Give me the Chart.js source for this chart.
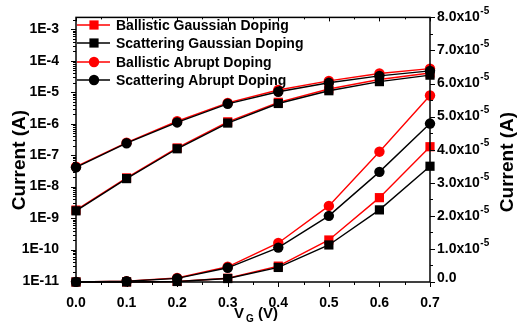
<!DOCTYPE html>
<html>
<head>
<meta charset="utf-8">
<script src="https://cdn.jsdelivr.net/npm/chart.js@4/dist/chart.umd.min.js"></script>
<style>
  body { margin: 0; background: #fff; }
  #wrap { width: 518px; height: 325px; }
</style>
</head>
<body>
<div id="wrap"><canvas id="ivChart" width="518" height="325"></canvas></div>
<script>
// gate voltage (V)
const vg = [0.0, 0.1, 0.2, 0.3, 0.4, 0.5, 0.6, 0.7];

// drain current (A)
const ballisticGaussian  = [1.8e-9, 1.9e-8, 1.7e-7, 1.15e-6, 4.8e-6, 1.27e-5, 2.55e-5, 4.09e-5];
const scatteringGaussian = [1.7e-9, 1.8e-8, 1.6e-7, 1.05e-6, 4.4e-6, 1.12e-5, 2.18e-5, 3.50e-5];
const ballisticAbrupt    = [4.3e-8, 2.5e-7, 1.2e-6, 4.6e-6, 1.18e-5, 2.30e-5, 3.94e-5, 5.64e-5];
const scatteringAbrupt   = [4.1e-8, 2.4e-7, 1.1e-6, 4.3e-6, 1.04e-5, 2.00e-5, 3.33e-5, 4.79e-5];

const seriesNames = ['Ballistic Gaussian Doping', 'Scattering Gaussian Doping',
                     'Ballistic Abrupt Doping', 'Scattering Abrupt Doping'];

// tick labels
const xTicks = [0.0, 0.1, 0.2, 0.3, 0.4, 0.5, 0.6, 0.7];
const logTicks = [1e-11, 1e-10, 1e-9, 1e-8, 1e-7, 1e-6, 1e-5, 1e-4, 1e-3];
const linTicks = [0, 1e-5, 2e-5, 3e-5, 4e-5, 5e-5, 6e-5, 7e-5, 8e-5];

const RED = '#ff0000';
const BLACK = '#000000';
const FONT = "'Liberation Sans', Arial, sans-serif";

const styles = [
  { color: RED,   shape: 'rect',   order: 1 },
  { color: BLACK, shape: 'rect',   order: 0 },
  { color: RED,   shape: 'circle', order: 1 },
  { color: BLACK, shape: 'circle', order: 0 }
];
const allSeries = [ballisticGaussian, scatteringGaussian, ballisticAbrupt, scatteringAbrupt];

function makeDataset(i, axis) {
  const st = styles[i];
  return {
    label: seriesNames[i],
    data: vg.map((v, k) => ({ x: v, y: allSeries[i][k] })),
    yAxisID: axis,
    borderColor: st.color,
    backgroundColor: st.color,
    borderWidth: 1.4,
    pointStyle: st.shape,
    pointRadius: st.shape === 'rect' ? 6.5 : 5.2,
    pointBorderWidth: 0,
    pointBackgroundColor: st.color,
    tension: 0,
    clip: false,
    order: st.order
  };
}

const datasets = [];
for (let i = 0; i < 4; i++) {
  datasets.push(makeDataset(i, 'yLog'));
  datasets.push(makeDataset(i, 'yLin'));
}

function drawMarker(ctx, shape, x, y, color) {
  ctx.fillStyle = color;
  ctx.beginPath();
  if (shape === 'rect') ctx.rect(x - 4.6, y - 4.6, 9.2, 9.2);
  else ctx.arc(x, y, 5.2, 0, Math.PI * 2);
  ctx.fill();
}

// frame, ticks, right labels, legend and titles
const decorPlugin = {
  id: 'decor',
  afterDatasetsDraw(chart) {
    const ctx = chart.ctx;
    const a = chart.chartArea;
    const xs = chart.scales.x, yl = chart.scales.yLog, yr = chart.scales.yLin;
    ctx.save();
    ctx.strokeStyle = BLACK;
    ctx.lineWidth = 1.5;
    ctx.strokeRect(a.left, a.top, a.right - a.left, a.bottom - a.top);

    ctx.lineWidth = 1;
    ctx.beginPath();
    // x ticks: out at the bottom, in at the top
    for (let k = 0; k <= 14; k++) {
      const x = Math.round(xs.getPixelForValue(k * 0.05)) + 0.5;
      const len = k % 2 === 0 ? 5 : 3;
      ctx.moveTo(x, a.bottom); ctx.lineTo(x, a.bottom + len);
      ctx.moveTo(x, a.top); ctx.lineTo(x, a.top + len - 1);
    }
    // log ticks on the left
    for (let e = -12; e <= -3; e++) {
      for (let m = 1; m <= 9; m++) {
        const v = m * Math.pow(10, e);
        if (v < yl.min || v > yl.max) continue;
        const y = Math.round(yl.getPixelForValue(v)) + 0.5;
        const len = m === 1 ? 5 : 3;
        ctx.moveTo(a.left, y); ctx.lineTo(a.left - len, y);
      }
    }
    // linear ticks on the right
    for (let k = 0; k <= 16; k++) {
      const y = Math.round(yr.getPixelForValue(k * 0.5e-5)) + 0.5;
      const len = k % 2 === 0 ? 5 : 3;
      ctx.moveTo(a.right, y); ctx.lineTo(a.right + len, y);
    }
    ctx.stroke();

    // right tick labels with superscript exponent
    ctx.fillStyle = BLACK;
    ctx.textBaseline = 'middle';
    ctx.textAlign = 'left';
    linTicks.forEach(v => {
      const y = yr.getPixelForValue(v);
      const lx = a.right + 7;
      if (v === 0) {
        ctx.font = 'bold 14px ' + FONT;
        ctx.fillText('0.0', lx, y - 4);
        return;
      }
      const mant = (v / 1e-5).toFixed(1) + 'x10';
      ctx.font = 'bold 14px ' + FONT;
      ctx.fillText(mant, lx, y);
      const w = ctx.measureText(mant).width;
      ctx.font = 'bold 10px ' + FONT;
      ctx.fillText('-5', lx + w + 0.5, y - 6);
    });

    // legend
    const rows = [25, 43, 62, 80];
    rows.forEach((y, i) => {
      const st = styles[i];
      ctx.strokeStyle = st.color;
      ctx.lineWidth = 1.4;
      ctx.beginPath();
      ctx.moveTo(a.left + 1, y); ctx.lineTo(a.left + 34, y);
      ctx.stroke();
      drawMarker(ctx, st.shape, a.left + 18, y, st.color);
      ctx.fillStyle = BLACK;
      ctx.font = 'bold 14px ' + FONT;
      ctx.textAlign = 'left';
      ctx.fillText(seriesNames[i], a.left + 40, y + 1);
    });

    // axis titles
    ctx.font = 'bold 19px ' + FONT;
    ctx.textAlign = 'center';
    ctx.textBaseline = 'middle';
    [[20, 160], [508, 162]].forEach(([tx, ty]) => {
      ctx.save();
      ctx.translate(tx, ty);
      ctx.rotate(-Math.PI / 2);
      ctx.fillText('Current (A)', 0, 0);
      ctx.restore();
    });

    ctx.textAlign = 'left';
    ctx.textBaseline = 'alphabetic';
    ctx.font = 'bold 15px ' + FONT;
    ctx.fillText('V', 234, 318);
    ctx.font = 'bold 10px ' + FONT;
    ctx.fillText('G', 246, 322);
    ctx.font = 'bold 15px ' + FONT;
    ctx.fillText('(V)', 258, 318);
    ctx.restore();
  }
};

new Chart(document.getElementById('ivChart'), {
  type: 'line',
  data: { datasets: datasets },
  options: {
    responsive: false,
    animation: false,
    layout: { padding: { top: 17, left: 0, right: 0, bottom: 0 } },
    plugins: { legend: { display: false }, tooltip: { enabled: false } },
    scales: {
      x: {
        type: 'linear',
        min: 0, max: 0.7,
        afterBuildTicks: s => { s.ticks = xTicks.map(v => ({ value: v })); },
        afterFit: s => { s.height = 43; },
        ticks: {
          callback: v => v.toFixed(1),
          font: { family: FONT, size: 14, weight: 'bold' },
          color: BLACK, padding: 5, maxRotation: 0, autoSkip: false
        },
        grid: { display: false },
        border: { display: false }
      },
      yLog: {
        type: 'logarithmic',
        position: 'left',
        min: 9.3e-12, max: 2.4e-3,
        afterBuildTicks: s => { s.ticks = logTicks.map(v => ({ value: v })); },
        afterFit: s => { s.width = 76; },
        ticks: {
          callback: v => '1E' + Math.round(Math.log10(v)),
          font: { family: FONT, size: 14, weight: 'bold' },
          color: BLACK, padding: 9, autoSkip: false
        },
        grid: { display: false },
        border: { display: false }
      },
      yLin: {
        type: 'linear',
        position: 'right',
        min: 0, max: 8e-5,
        afterBuildTicks: s => { s.ticks = linTicks.map(v => ({ value: v })); },
        afterFit: s => { s.width = 88; },
        ticks: { display: false },
        grid: { display: false },
        border: { display: false }
      }
    }
  },
  plugins: [decorPlugin]
});
</script>
</body>
</html>
